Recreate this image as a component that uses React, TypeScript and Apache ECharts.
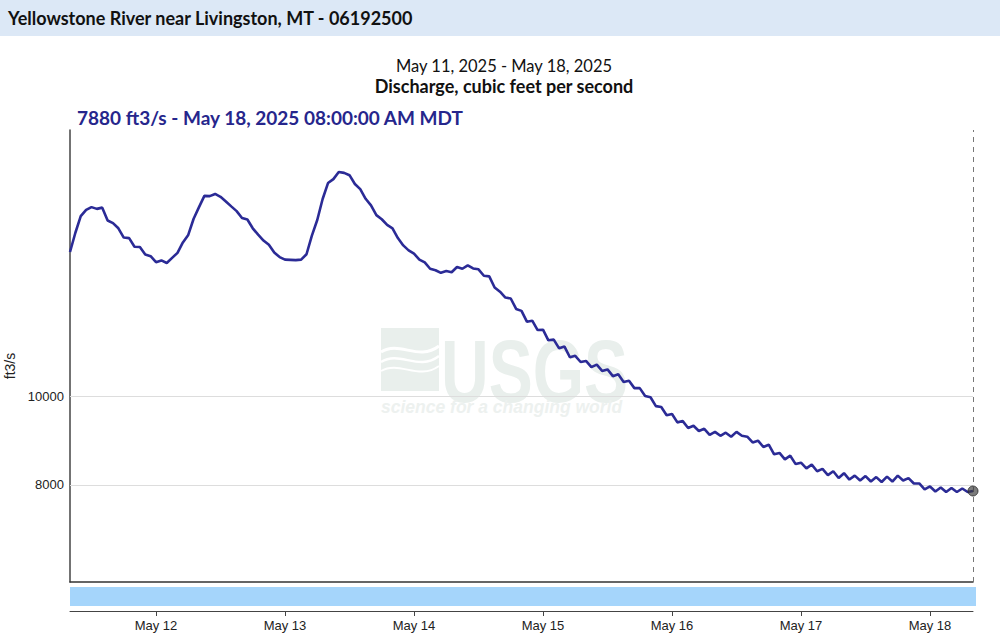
import React, { useEffect, useRef } from "react";
import * as echarts from "echarts";

// Discharge, ft3/s, hourly from May 11 08:00 to May 18 08:00 (MDT)
const START_HOUR = 8; // hours after May 11 00:00
const END_HOUR = 176;
const discharge: number[] = [
  14350, 15060, 15700, 15950, 16060, 15990, 16040, 15530, 15430, 15230,
  14880, 14860, 14540, 14530, 14260, 14200, 13990, 14050, 13960, 14140,
  14320, 14700, 14980, 15600, 16060, 16520, 16510, 16600, 16480, 16290,
  16090, 15900, 15630, 15570, 15230, 14990, 14770, 14610, 14330, 14170,
  14080, 14070, 14060, 14080, 14270, 14950, 15550, 16390, 17060, 17230,
  17540, 17500, 17400, 17020, 16800, 16400, 16130, 15740, 15580, 15360,
  15230, 14860, 14590, 14410, 14290, 14080, 13980, 13760, 13710, 13620,
  13680, 13640, 13820, 13760, 13880, 13770, 13740, 13520, 13500, 13130,
  12990, 12800, 12770, 12440, 12380, 12050, 12080, 11800, 11810, 11500,
  11520, 11270, 11320, 11020, 11060, 10890, 10920, 10750, 10820, 10650,
  10690, 10510, 10560, 10360, 10390, 10200, 10200, 10000, 9970, 9750,
  9730, 9530, 9560, 9360, 9390, 9230, 9280, 9160, 9210, 9070,
  9140, 9050, 9120, 9030, 9140, 9050, 9030, 8900, 8940, 8800,
  8850, 8640, 8670, 8530, 8610, 8430, 8460, 8340, 8420, 8280,
  8330, 8200, 8280, 8140, 8240, 8110, 8190, 8090, 8180, 8070,
  8160, 8060, 8170, 8070, 8190, 8090, 8140, 8030, 8030, 7910,
  7970, 7870, 7950, 7860, 7940, 7860, 7930, 7860, 7880,
];
const lastValue = 7880;

const yTickValues = [8000, 10000];
const xTickHours = [24, 48, 72, 96, 120, 144, 168];
const xTickLabels = ["May 12", "May 13", "May 14", "May 15", "May 16", "May 17", "May 18"];

const TITLE = "Yellowstone River near Livingston, MT - 06192500";
const DATE_RANGE = "May 11, 2025 - May 18, 2025";
const PARAM = "Discharge, cubic feet per second";
const LATEST = "7880 ft3/s - May 18, 2025 08:00:00 AM MDT";

export default function App() {
  const ref = useRef<HTMLDivElement>(null);
  useEffect(() => {
    if (!ref.current) return;
    const chart = echarts.init(ref.current, undefined, { renderer: "svg" });
    const lineData = discharge.map((v, i) => [START_HOUR + i, v]);
    const labelFor = (v: number) => {
      const idx = xTickHours.indexOf(Math.round(v));
      return idx >= 0 ? xTickLabels[idx] : "";
    };
    const sans = "'Liberation Sans', Arial, sans-serif";
    chart.setOption({
      animation: false,
      backgroundColor: "#fff",
      grid: [
        { left: 70, right: 27, top: 130, height: 452, outerBoundsMode: "none", containLabel: false },
        { left: 70, right: 27, top: 587, height: 24, outerBoundsMode: "none", containLabel: false },
      ],
      xAxis: [
        {
          type: "value",
          gridIndex: 0,
          min: START_HOUR,
          max: END_HOUR,
          axisLine: { show: true, lineStyle: { color: "#333", width: 1.5 } },
          axisTick: { show: false },
          axisLabel: { show: false },
          splitLine: { show: false },
        },
        {
          type: "value",
          gridIndex: 1,
          min: START_HOUR,
          max: END_HOUR,
          axisLine: { show: true, lineStyle: { color: "#444", width: 1 } },
          axisTick: { show: true, customValues: xTickHours, length: 5, lineStyle: { color: "#444" } },
          axisLabel: {
            show: true,
            customValues: xTickHours,
            formatter: (v: number) => labelFor(v),
            color: "#222",
            fontSize: 13,
            fontFamily: sans,
            margin: 8,
          },
          splitLine: { show: false },
        },
      ],
      yAxis: [
        {
          type: "log",
          gridIndex: 0,
          logBase: 10,
          min: 6272,
          max: 19488,
          name: "ft3/s",
          nameLocation: "middle",
          nameRotate: 90,
          nameGap: 40,
          nameTextStyle: { color: "#222", fontSize: 14, fontFamily: sans, padding: [0, 20, 0, 0] },
          axisLine: { show: true, lineStyle: { color: "#444", width: 1.5 } },
          axisTick: { show: false },
          axisLabel: {
            show: true,
            customValues: yTickValues,
            formatter: (v: number) => String(Math.round(v)),
            color: "#222",
            fontSize: 13,
            fontFamily: sans,
            margin: 6,
          },
          splitLine: { show: false },
        },
        {
          type: "value",
          gridIndex: 1,
          min: 0,
          max: 1,
          show: false,
        },
      ],
      graphic: [
        { type: "rect", z: 0, shape: { x: 0, y: 0, width: 1000, height: 36 }, style: { fill: "#dce8f6" } },
        {
          type: "text", z: 1, x: 8, y: 18,
          style: { text: TITLE, font: "bold 18px Lato, sans-serif", fill: "#111", textVerticalAlign: "middle" },
        },
        {
          type: "text", z: 1, x: 504, y: 66,
          style: { text: DATE_RANGE, font: "16.5px Lato, sans-serif", fill: "#111", textAlign: "center", textVerticalAlign: "middle" },
        },
        {
          type: "text", z: 1, x: 504, y: 86,
          style: { text: PARAM, font: "bold 18px Lato, sans-serif", fill: "#111", textAlign: "center", textVerticalAlign: "middle" },
        },
        {
          type: "text", z: 1, x: 77, y: 117,
          style: { text: LATEST, font: "bold 19px Lato, sans-serif", fill: "#26268c", textVerticalAlign: "middle" },
        },
        // USGS watermark
        { type: "rect", z: 0, shape: { x: 381, y: 328, width: 58, height: 63 }, style: { fill: "#e9efec" } },
        { type: "bezierCurve", z: 0, shape: { x1: 381, y1: 352, cpx1: 400, cpy1: 340, cpx2: 418, cpy2: 362, x2: 439, y2: 346 }, style: { stroke: "#fff", lineWidth: 3, fill: "none" } },
        { type: "bezierCurve", z: 0, shape: { x1: 381, y1: 362, cpx1: 400, cpy1: 350, cpx2: 418, cpy2: 372, x2: 439, y2: 356 }, style: { stroke: "#fff", lineWidth: 2.5, fill: "none" } },
        { type: "bezierCurve", z: 0, shape: { x1: 381, y1: 371, cpx1: 400, cpy1: 360, cpx2: 418, cpy2: 381, x2: 439, y2: 366 }, style: { stroke: "#fff", lineWidth: 2, fill: "none" } },
        {
          type: "text", z: 0, x: 441, y: 327, scaleX: 0.75,
          style: { text: "USGS", font: "bold 88px 'Liberation Sans', Arial, sans-serif", fill: "#e9efec", textVerticalAlign: "top" },
        },
        {
          type: "text", z: 0, x: 381, y: 407,
          style: { text: "science for a changing world", font: "italic bold 17.5px 'Liberation Sans', Arial, sans-serif", fill: "#edf1ef", textVerticalAlign: "middle" },
        },
        // brush bar
        { type: "rect", z: 0, shape: { x: 70, y: 587, width: 906, height: 19 }, style: { fill: "#a5d5fb" } },
      ],
      series: [
        {
          type: "line",
          xAxisIndex: 0,
          yAxisIndex: 0,
          data: lineData,
          showSymbol: false,
          symbol: "none",
          z: 3,
          lineStyle: { color: "#2b2b96", width: 2.6 },
          markLine: {
            silent: true,
            symbol: "none",
            label: { show: false },
            z: 1,
            data: [
              ...yTickValues.map((v) => ({ yAxis: v, lineStyle: { color: "#dddddd", width: 1, type: "solid" } })),
              { xAxis: END_HOUR, lineStyle: { color: "#777", width: 1, type: [5, 5] } },
            ],
          },
        },
        {
          type: "scatter",
          xAxisIndex: 0,
          yAxisIndex: 0,
          data: [[END_HOUR, lastValue]],
          symbolSize: 10,
          z: 4,
          itemStyle: { color: "rgba(60,60,60,0.85)", borderColor: "#222", borderWidth: 1 },
        },
      ],
    });
    return () => chart.dispose();
  }, []);
  return <div ref={ref} style={{ position: "fixed", left: 0, top: 0, width: 1000, height: 634 }} />;
}
